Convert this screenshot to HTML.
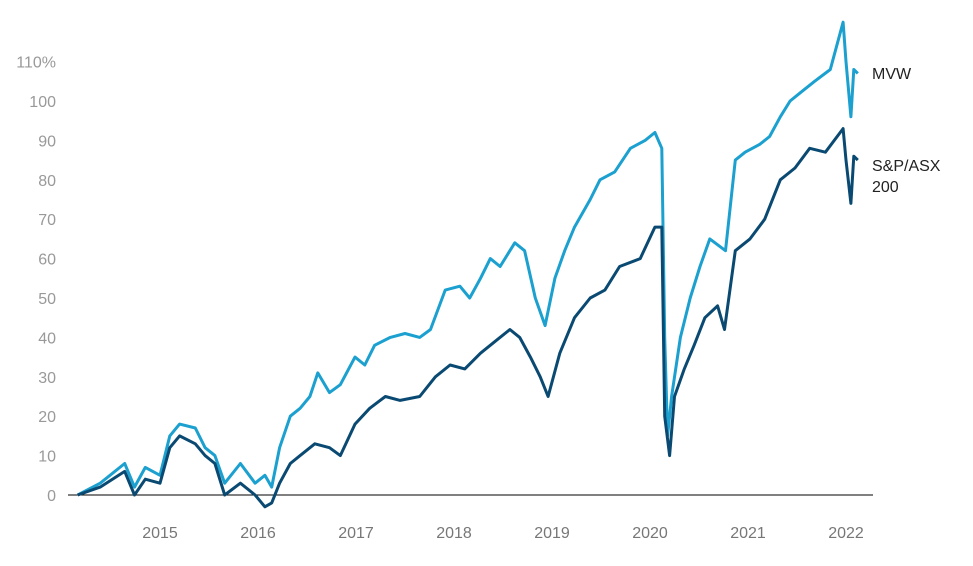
<!DOCTYPE html>
<html><head><meta charset="utf-8"><style>
html,body{margin:0;padding:0;background:#fff;}
svg{display:block;font-family:"Liberation Sans",sans-serif;}
</style></head><body>
<svg id="chart" width="973" height="566" viewBox="0 0 973 566" xmlns="http://www.w3.org/2000/svg">
<g id="yticks"></g>
<g id="xticks"></g>
<line x1="68" y1="495" x2="873" y2="495" stroke="#000" stroke-width="1"/>
<g id="series"></g>
<text x="872" y="79" font-size="16" fill="#222">MVW</text>
<text x="872" y="171" font-size="16" fill="#222">S&amp;P/ASX</text>
<text x="872" y="192" font-size="16" fill="#222">200</text>
</svg>
<script>
const yTickValues=[0,10,20,30,40,50,60,70,80,90,100,110];
const yTickLabels=["0","10","20","30","40","50","60","70","80","90","100","110%"];
const xTickYears=[2015,2016,2017,2018,2019,2020,2021,2022];
const mvwDates=[2014.16,2014.39,2014.64,2014.74,2014.85,2015.0,2015.1,2015.2,2015.36,2015.46,2015.56,2015.66,2015.82,2015.97,2016.07,2016.14,2016.22,2016.33,2016.43,2016.53,2016.61,2016.73,2016.84,2016.99,2017.09,2017.19,2017.35,2017.5,2017.65,2017.76,2017.91,2018.06,2018.16,2018.27,2018.37,2018.47,2018.62,2018.72,2018.83,2018.93,2019.03,2019.13,2019.23,2019.39,2019.49,2019.64,2019.8,2019.95,2020.05,2020.12,2020.15,2020.18,2020.22,2020.31,2020.41,2020.51,2020.61,2020.77,2020.87,2020.97,2021.12,2021.22,2021.33,2021.43,2021.53,2021.68,2021.84,2021.97,2022.0,2022.05,2022.08,2022.12];
const mvwValues=[0,3,8,2,7,5,15,18,17,12,10,3,8,3,5,2,12,20,22,25,31,26,28,35,33,38,40,41,40,42,52,53,50,55,60,58,64,62,50,43,55,62,68,75,80,82,88,90,92,88,40,15,25,40,50,58,65,62,85,87,89,91,96,100,102,105,108,120,110,96,108,107];
const spDates=[2014.16,2014.39,2014.64,2014.74,2014.85,2015.0,2015.1,2015.2,2015.36,2015.46,2015.56,2015.66,2015.82,2015.97,2016.07,2016.14,2016.22,2016.33,2016.43,2016.58,2016.73,2016.84,2016.99,2017.14,2017.3,2017.45,2017.65,2017.81,2017.96,2018.11,2018.27,2018.42,2018.57,2018.67,2018.78,2018.88,2018.96,2019.08,2019.23,2019.39,2019.54,2019.69,2019.9,2020.05,2020.12,2020.15,2020.2,2020.25,2020.35,2020.45,2020.56,2020.69,2020.76,2020.87,2021.02,2021.17,2021.33,2021.48,2021.63,2021.79,2021.97,2022.0,2022.05,2022.08,2022.12];
const spValues=[0,2,6,0,4,3,12,15,13,10,8,0,3,0,-3,-2,3,8,10,13,12,10,18,22,25,24,25,30,33,32,36,39,42,40,35,30,25,36,45,50,52,58,60,68,68,20,10,25,32,38,45,48,42,62,65,70,80,83,88,87,93,85,74,86,85];
const NS="http://www.w3.org/2000/svg";
const X0=160,PXY=98,Y0=495,PXV=3.94;
const xs=t=>X0+(t-2015)*PXY;
const ys=v=>Y0-v*PXV;
const yt=document.getElementById('yticks');
yTickValues.forEach((v,i)=>{const t=document.createElementNS(NS,'text');


t.setAttribute('x',56);t.setAttribute('y',ys(v)+6);t.setAttribute('text-anchor','end');t.setAttribute('font-size','16');t.setAttribute('fill','#999');t.textContent=yTickLabels[i];yt.appendChild(t);});
const xt=document.getElementById('xticks');
xTickYears.forEach(y=>{const t=document.createElementNS(NS,'text');


t.setAttribute('x',xs(y));t.setAttribute('y',538);t.setAttribute('text-anchor','middle');t.setAttribute('font-size','16');t.setAttribute('fill','#777');t.textContent=y;xt.appendChild(t);});
const sg=document.getElementById('series');
function line(d,v,c){const p=document.createElementNS(NS,'polyline');
p.setAttribute('points',d.map((t,i)=>xs(t).toFixed(1)+','+ys(v[i]).toFixed(1)).join(' '));
p.setAttribute('fill','none');p.setAttribute('stroke',c);p.setAttribute('stroke-width','3');p.setAttribute('stroke-linejoin','round');sg.appendChild(p);return p;}
const l1=line(mvwDates,mvwValues,'#1ba0cf');


const l2=line(spDates,spValues,'#0a4a72');


</script>
</body></html>
